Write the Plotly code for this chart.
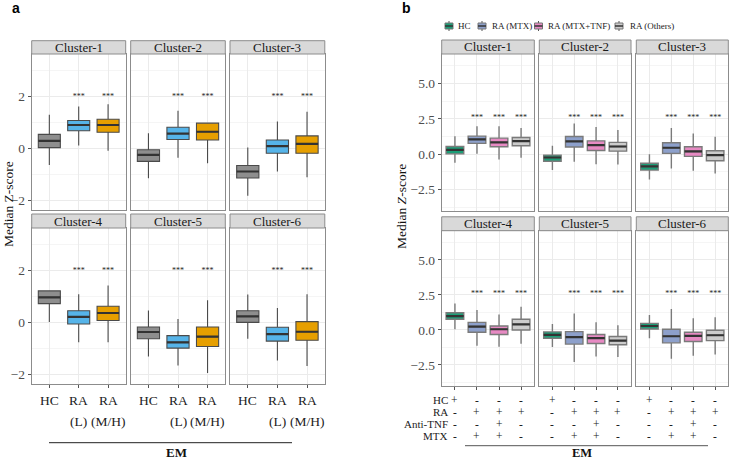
import plotly.graph_objects as go

# ---------------- data ----------------
clusters = ["Cluster-1", "Cluster-2", "Cluster-3", "Cluster-4", "Cluster-5", "Cluster-6"]

groups_a = ["HC", "RA (L)", "RA (M/H)"]
colors_a = ["#8e8e8e", "#56B4E9", "#E69F00"]
sig_a = ["", "***", "***"]
star_y_a = 2.0

a_low = [[-0.63, 0.12, -0.08], [-1.14, -0.35, -0.56], [-1.81, -0.88, -1.10],
         [0.02, -0.75, -0.75], [-1.30, -1.65, -1.94], [-0.62, -1.46, -1.67]]
a_q1 = [[0.04, 0.69, 0.63], [-0.49, 0.35, 0.33], [-1.13, -0.18, -0.18],
        [0.73, -0.05, 0.08], [-0.62, -0.98, -0.92], [0.01, -0.71, -0.68]]
a_med = [[0.30, 0.91, 0.91], [-0.24, 0.58, 0.65], [-0.88, 0.10, 0.18],
         [0.97, 0.22, 0.37], [-0.36, -0.76, -0.54], [0.24, -0.44, -0.35]]
a_q3 = [[0.55, 1.08, 1.13], [-0.04, 0.82, 0.98], [-0.65, 0.33, 0.49],
        [1.22, 0.46, 0.63], [-0.17, -0.50, -0.17], [0.46, -0.18, 0.04]]
a_high = [[1.30, 1.62, 1.71], [0.59, 1.46, 0.98], [0.04, 1.04, 1.42],
          [1.22, 1.09, 1.43], [0.47, 0.14, 0.86], [1.08, 0.56, 1.09]]

groups_b = ["HC", "RA (MTX)", "RA (MTX+TNF)", "RA (Others)"]
colors_b = ["#1B9E77", "#8DA0CB", "#E78AC3", "#CCCCCC"]
sig_b = ["", "***", "***", "***"]
star_y_b = 2.55

b_low = [[-0.61, 0.02, -0.38, -0.26], [-1.13, -0.54, -0.71, -0.73], [-1.79, -1.01, -1.18, -1.37],
         [0.05, -1.13, -1.20, -0.99], [-1.22, -2.29, -1.89, -1.93], [-0.59, -2.05, -1.84, -1.75]]
b_q1 = [[0.02, 0.76, 0.52, 0.59], [-0.50, 0.50, 0.26, 0.21], [-1.13, 0.05, -0.16, -0.47],
        [0.76, -0.17, -0.33, 0.00], [-0.59, -1.01, -0.97, -1.06], [0.07, -0.92, -0.83, -0.76]]
b_med = [[0.30, 1.04, 0.83, 0.92], [-0.24, 0.90, 0.64, 0.54], [-0.87, 0.45, 0.19, -0.07],
         [0.99, 0.24, 0.05, 0.40], [-0.35, -0.52, -0.59, -0.76], [0.28, -0.45, -0.42, -0.38]]
b_q3 = [[0.54, 1.27, 1.13, 1.18], [-0.07, 1.25, 0.94, 0.83], [-0.64, 0.80, 0.52, 0.24],
        [1.23, 0.54, 0.28, 0.76], [-0.14, -0.12, -0.33, -0.47], [0.47, 0.05, -0.16, -0.02]]
b_high = [[1.27, 1.98, 1.98, 1.84], [0.59, 2.17, 1.91, 1.70], [0.00, 1.84, 1.46, 1.23],
          [1.89, 1.42, 1.11, 1.65], [0.42, 1.18, 0.54, 0.33], [1.06, 1.49, 0.83, 0.90]]

table_rows = ["HC", "RA", "Anti-TNF", "MTX"]
table_vals = [["+", "-", "-", "-"],
              ["-", "+", "+", "+"],
              ["-", "-", "+", "-"],
              ["-", "+", "+", "-"]]

# ---------------- layout helpers ----------------
W, H = 729, 460
SERIF = "Liberation Serif"


def px(x):
    return x / W


def py(y):
    return 1 - y / H


# panel a geometry (px)
a_cols = [(31.7, 125.7), (130.7, 225.3), (230.0, 324.8)]
a_rows = [(54.0, 210.0), (228.0, 384.0)]
a_strips = [(40.7, 54.0), (214.0, 228.0)]
# panel b geometry
b_cols = [(441.7, 534.3), (539.3, 631.0), (636.3, 728.3)]
b_rows = [(54.0, 210.7), (230.7, 386.0)]
b_strips = [(40.0, 54.0), (216.8, 230.7)]

fig = go.Figure()
layout = dict(width=W, height=H, margin=dict(l=0, r=0, t=0, b=0),
              paper_bgcolor="white", plot_bgcolor="white", showlegend=False,
              font=dict(family=SERIF, color="#333333"))
shapes, annotations = [], []

BORDER = "#8c8c8c"
GRID = "#ebebeb"
MINOR = "#f5f5f5"
TICK_FS = 13.5
STRIP_FS = 13


def add_panel(k, col, row, cols, rows, strips, ngroups, yrange, dtick, minor_dtick, tickformat, label):
    x0, x1 = cols[col]
    y0, y1 = rows[row]
    left = col == 0
    bottom = row == 1
    layout[f"xaxis{k}"] = dict(domain=[px(x0), px(x1)], anchor=f"y{k}", range=[0.4, ngroups + 0.6],
                               tickvals=list(range(1, ngroups + 1)), showticklabels=False,
                               showgrid=True, gridcolor=GRID, gridwidth=1, zeroline=False,
                               showline=True, mirror=True, linecolor=BORDER, linewidth=1,
                               ticks="outside" if bottom else "", ticklen=3, tickcolor="#555555",
                               fixedrange=True)
    layout[f"yaxis{k}"] = dict(domain=[py(y1), py(y0)], anchor=f"x{k}", range=yrange,
                               tick0=0, dtick=dtick, tickformat=tickformat,
                               showticklabels=left, tickfont=dict(size=TICK_FS, color="#4d4d4d", family=SERIF),
                               showgrid=True, gridcolor=GRID, gridwidth=1, zeroline=False,
                               minor=dict(showgrid=True, gridcolor=MINOR, dtick=minor_dtick, tick0=0),
                               showline=True, mirror=True, linecolor=BORDER, linewidth=1,
                               ticks="outside" if left else "", ticklen=3, tickcolor="#555555",
                               fixedrange=True)
    s0, s1 = strips[row]
    shapes.append(dict(type="rect", xref="paper", yref="paper", x0=px(x0), x1=px(x1),
                       y0=py(s1), y1=py(s0), fillcolor="#d9d9d9", line=dict(color=BORDER, width=1)))
    annotations.append(dict(text=label, xref="paper", yref="paper", x=px((x0 + x1) / 2),
                            y=py((s0 + s1) / 2), showarrow=False, xanchor="center", yanchor="middle",
                            font=dict(size=STRIP_FS, color="#1a1a1a", family=SERIF)))


def add_boxes(k, groups, colors, low, q1, med, q3, high, sig, star_y, width, line_col, med_col, lw):
    for g in range(len(groups)):
        xpos = g + 1
        fig.add_trace(go.Box(x=[xpos], lowerfence=[low[g]], q1=[q1[g]], median=[med[g]], q3=[q3[g]],
                             upperfence=[high[g]], width=width, whiskerwidth=0, boxpoints=False,
                             fillcolor=colors[g], line=dict(color=line_col, width=lw),
                             xaxis=f"x{k}", yaxis=f"y{k}", name=groups[g], hoverinfo="skip"))
        fig.add_trace(go.Scatter(x=[xpos - width / 2, xpos + width / 2], y=[med[g], med[g]], mode="lines",
                                 line=dict(color=med_col, width=2.2), xaxis=f"x{k}", yaxis=f"y{k}",
                                 hoverinfo="skip"))
    fig.add_trace(go.Scatter(x=list(range(1, len(groups) + 1)), y=[star_y] * len(groups), mode="text",
                             text=sig, textfont=dict(size=8, color="#222222", family=SERIF),
                             xaxis=f"x{k}", yaxis=f"y{k}", hoverinfo="skip"))


# ---------------- panel a ----------------
for i, cl in enumerate(clusters):
    k = i + 1
    col, row = i % 3, i // 3
    add_panel(k, col, row, a_cols, a_rows, a_strips, len(groups_a), [-2.36, 3.64], 2, 1, "d", cl)
    add_boxes(k, groups_a, colors_a, a_low[i], a_q1[i], a_med[i], a_q3[i], a_high[i], sig_a, star_y_a,
              0.75, "#4a4a4a", "#333333", 1.1)
    if row == 1:
        for g, name in enumerate(groups_a):
            parts = name.split(" ")
            for li, part in enumerate(parts):
                annotations.append(dict(text=part, xref=f"x{k}", yref="paper", x=g + 1,
                                        y=py(400 + li * 21), showarrow=False, xanchor="center",
                                        yanchor="middle", font=dict(size=TICK_FS, color="#222222", family=SERIF)))

# ---------------- panel b ----------------
TAB_Y0, TAB_DY, TAB_FS = 399.5, 12.3, 11
for i, cl in enumerate(clusters):
    k = i + 7
    col, row = i % 3, i // 3
    add_panel(k, col, row, b_cols, b_rows, b_strips, len(groups_b), [-4.0, 7.08], 2.5, 1.25, ".1f", cl)
    add_boxes(k, groups_b, colors_b, b_low[i], b_q1[i], b_med[i], b_q3[i], b_high[i], sig_b, star_y_b,
              0.8, "#7a7a7a", "#333333", 1.4)
    if row == 1:
        for r in range(len(table_rows)):
            for g in range(len(groups_b)):
                annotations.append(dict(text=table_vals[r][g], xref=f"x{k}", yref="paper", x=g + 1,
                                        y=py(TAB_Y0 + r * TAB_DY), showarrow=False, xanchor="center",
                                        yanchor="middle", font=dict(size=TAB_FS + 0.5, color="#222222", family=SERIF)))

for r, lab in enumerate(table_rows):
    annotations.append(dict(text=lab, xref="paper", yref="paper", x=px(450), y=py(TAB_Y0 + r * TAB_DY),
                            showarrow=False, xanchor="right", yanchor="middle",
                            font=dict(size=TAB_FS, color="#222222", family=SERIF)))

# legend (panel b)
leg_key_x = [449, 482, 538.5, 619]
leg_text_x = [456, 490, 546, 628]
leg_y = 26
for g, name in enumerate(groups_b):
    cx = leg_key_x[g]
    shapes.append(dict(type="line", xref="paper", yref="paper", x0=px(cx), x1=px(cx),
                       y0=py(leg_y + 5), y1=py(leg_y - 5), line=dict(color="#555555", width=1)))
    shapes.append(dict(type="rect", xref="paper", yref="paper", x0=px(cx - 4), x1=px(cx + 4),
                       y0=py(leg_y + 3), y1=py(leg_y - 3), fillcolor=colors_b[g],
                       line=dict(color="#777777", width=1)))
    shapes.append(dict(type="line", xref="paper", yref="paper", x0=px(cx - 4), x1=px(cx + 4),
                       y0=py(leg_y), y1=py(leg_y), line=dict(color="#333333", width=1.5)))
    annotations.append(dict(text=name, xref="paper", yref="paper", x=px(leg_text_x[g]), y=py(leg_y),
                            showarrow=False, xanchor="left", yanchor="middle",
                            font=dict(size=9, color="#1a1a1a", family=SERIF)))

# y titles
annotations.append(dict(text="Median Z-score", xref="paper", yref="paper", x=px(8), y=py(204),
                        textangle=-90, showarrow=False, xanchor="center", yanchor="middle",
                        font=dict(size=13.5, color="#111111", family=SERIF)))
annotations.append(dict(text="Median <i>Z</i>-score", xref="paper", yref="paper", x=px(402), y=py(207),
                        textangle=-90, showarrow=False, xanchor="center", yanchor="middle",
                        font=dict(size=13.5, color="#111111", family=SERIF)))

# EM bars
shapes.append(dict(type="line", xref="paper", yref="paper", x0=px(49), x1=px(292), y0=py(442.7), y1=py(442.7),
                   line=dict(color="#222222", width=1)))
annotations.append(dict(text="<b>EM</b>", xref="paper", yref="paper", x=px(176), y=py(452),
                        showarrow=False, xanchor="center", yanchor="middle",
                        font=dict(size=13, color="#111111", family=SERIF)))
shapes.append(dict(type="line", xref="paper", yref="paper", x0=px(465), x1=px(708), y0=py(445.7), y1=py(445.7),
                   line=dict(color="#555555", width=1)))
annotations.append(dict(text="<b>EM</b>", xref="paper", yref="paper", x=px(582), y=py(452.5),
                        showarrow=False, xanchor="center", yanchor="middle",
                        font=dict(size=12.5, color="#111111", family=SERIF)))

# panel letters
annotations.append(dict(text="<b>a</b>", xref="paper", yref="paper", x=px(10), y=py(8), showarrow=False,
                        xanchor="left", yanchor="middle", font=dict(size=14, color="#000000", family="Liberation Sans")))
annotations.append(dict(text="<b>b</b>", xref="paper", yref="paper", x=px(400), y=py(8), showarrow=False,
                        xanchor="left", yanchor="middle", font=dict(size=14, color="#000000", family="Liberation Sans")))

layout["shapes"] = shapes
layout["annotations"] = annotations
fig.update_layout(**layout)
fig.write_html("out.html", config={"displayModeBar": False},
               post_script="document.body.style.margin='0';document.body.style.padding='0';"
                           "document.body.style.overflow='hidden';")
